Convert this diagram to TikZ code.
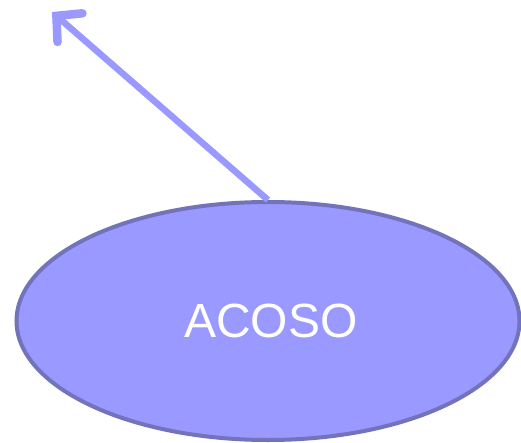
\documentclass[tikz,border=0pt]{standalone}
\usepackage{fontspec}
\setmainfont{Liberation Sans}
\usetikzlibrary{arrows.meta,shapes.geometric}
\definecolor{fillc}{HTML}{9999FF}
\definecolor{edgec}{HTML}{7373BB}
\begin{document}
\begin{tikzpicture}[x=1pt,y=1pt,
  bubble/.style={ellipse, draw=edgec, line width=4pt, fill=fillc, minimum width=503pt, minimum height=238pt, inner sep=0pt, text=white, font=\fontsize{48}{56}\selectfont},
  link/.style={draw=fillc, line width=6.5pt, -{Straight Barb[length=18pt,width=38pt,line width=8.5pt,line cap=round]}}]
\useasboundingbox (0,0) rectangle (521,442);
\node[bubble] (a) at (268,121) {\hspace*{6pt}ACOSO};
\coordinate (t) at (52,430);
\draw[link] (a.north) -- (t);
\end{tikzpicture}
\end{document}
